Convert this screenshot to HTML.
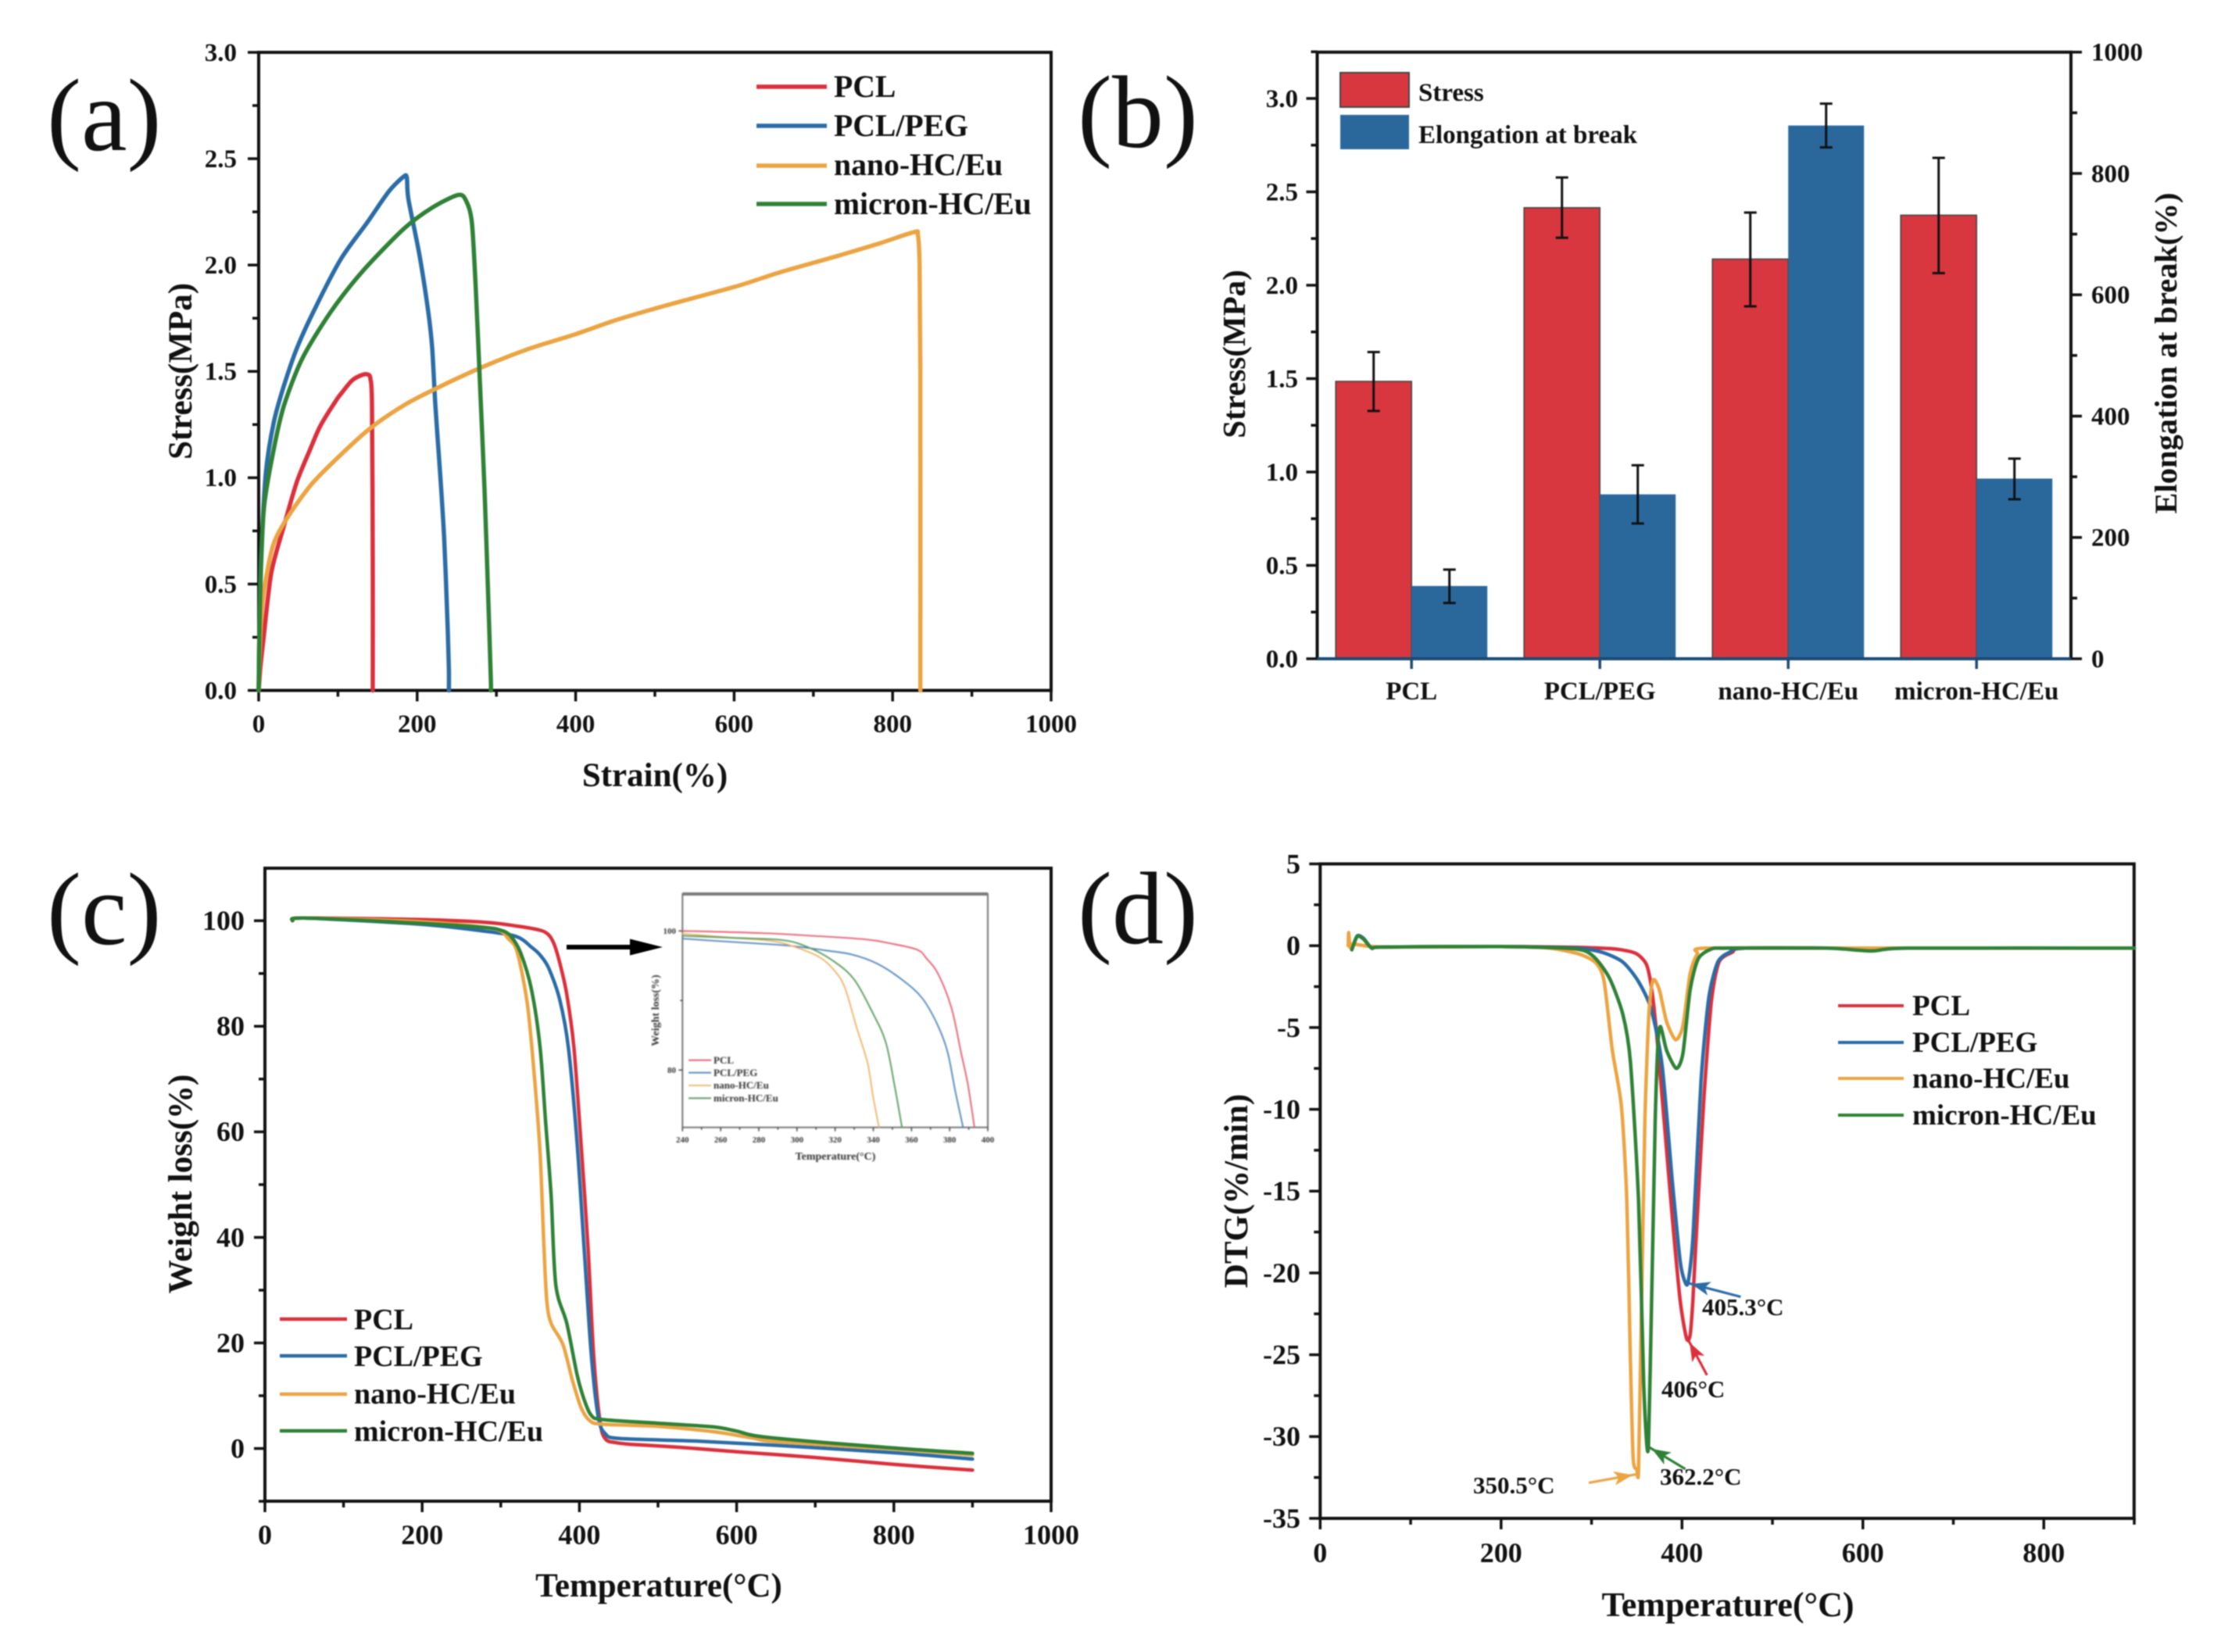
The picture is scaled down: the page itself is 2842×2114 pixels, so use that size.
<!DOCTYPE html>
<html lang="en">
<head>
<meta charset="utf-8">
<title>PCL composite mechanical and thermal properties</title>
<style>
html,body{margin:0;padding:0;background:#fff;}
#figure{display:block;width:2842px;height:2114px;filter:blur(0.8px);}
text{font-family:"Liberation Serif","DejaVu Serif",serif;font-weight:bold;fill:#111;}
.panel-tag{font-weight:normal;font-size:132px;}
.axis-title{font-size:43px;}
.legend-text{font-size:38px;}
.note{font-size:31px;}
.inset-text{fill:#333;}
</style>
</head>
<body>
<svg id="figure" xmlns="http://www.w3.org/2000/svg" width="2842" height="2114" viewBox="0 0 2842 2114">
  <rect x="0" y="0" width="2842" height="2114" fill="#fff"/>

  <g id="panel-a">
    <text class="panel-tag" x="60" y="192">(a)</text>
    <rect x="331" y="67" width="1014" height="816.5" fill="none" stroke="#111" stroke-width="4"/>
    <g id="a-ticks"></g>
    <g id="a-series"></g>
    <text class="axis-title" x="838" y="1006" text-anchor="middle">Strain(%)</text>
    <text class="axis-title" transform="translate(245,475) rotate(-90)" text-anchor="middle">Stress(MPa)</text>
    <g>
      <line x1="968" x2="1058" y1="111" y2="111" stroke="#d9303c" stroke-width="5.5"/>
      <line x1="968" x2="1058" y1="161" y2="161" stroke="#2a6ca6" stroke-width="5.5"/>
      <line x1="968" x2="1058" y1="212" y2="212" stroke="#eba442" stroke-width="5.5"/>
      <line x1="968" x2="1058" y1="261" y2="261" stroke="#2e8135" stroke-width="5.5"/>
      <text class="legend-text" style="font-size:39.7px" x="1067" y="124">PCL</text>
      <text class="legend-text" style="font-size:39.7px" x="1067" y="174">PCL/PEG</text>
      <text class="legend-text" style="font-size:39.7px" x="1067" y="224">nano-HC/Eu</text>
      <text class="legend-text" style="font-size:39.7px" x="1067" y="274">micron-HC/Eu</text>
    </g>
  </g>

  <g id="panel-b">
    <text class="panel-tag" x="1379" y="188">(b)</text>
    <g id="b-bars"></g>
    <path d="M1685.5 843V66.7H2650V843" fill="none" stroke="#111" stroke-width="4"/>
    <line x1="1685.5" x2="2650" y1="843" y2="843" stroke="#1c4a73" stroke-width="4"/>
    <g id="b-ticks"></g>
    <text class="axis-title" style="font-size:41px" transform="translate(1593,453) rotate(-90)" text-anchor="middle">Stress(MPa)</text>
    <text class="axis-title" style="font-size:40.5px" transform="translate(2785,452) rotate(-90)" text-anchor="middle">Elongation at break(%)</text>
    <g>
      <rect x="1715" y="93" width="88" height="44" fill="#d8373f" stroke="#444" stroke-width="2"/>
      <rect x="1715" y="147" width="88" height="44" fill="#2a689c"/>
      <text x="1815" y="129" font-size="33">Stress</text>
      <text x="1815" y="183" font-size="33">Elongation at break</text>
    </g>
  </g>

  <g id="panel-c">
    <text class="panel-tag" x="60" y="1208">(c)</text>
    <rect x="339" y="1111" width="1006" height="810" fill="none" stroke="#111" stroke-width="4"/>
    <g id="c-ticks"></g>
    <g id="c-series"></g>
    <text class="axis-title" x="843" y="2043" text-anchor="middle">Temperature(°C)</text>
    <text class="axis-title" transform="translate(245,1515) rotate(-90)" text-anchor="middle">Weight loss(%)</text>
    <g>
      <line x1="358" x2="444" y1="1688" y2="1688" stroke="#d9303c" stroke-width="4.5"/>
      <line x1="358" x2="444" y1="1735" y2="1735" stroke="#2a6ca6" stroke-width="4.5"/>
      <line x1="358" x2="444" y1="1784" y2="1784" stroke="#eba442" stroke-width="4.5"/>
      <line x1="358" x2="444" y1="1831" y2="1831" stroke="#2e8135" stroke-width="4.5"/>
      <text class="legend-text" x="453" y="1701">PCL</text>
      <text class="legend-text" x="453" y="1748">PCL/PEG</text>
      <text class="legend-text" x="453" y="1796">nano-HC/Eu</text>
      <text class="legend-text" x="453" y="1844">micron-HC/Eu</text>
    </g>
    <g>
      <line x1="725" x2="812" y1="1212" y2="1212" stroke="#000" stroke-width="6"/>
      <path d="M806 1201.5L848 1212L806 1222.5Z" fill="#000"/>
    </g>
    <g id="inset" style="filter:blur(0.6px)">
      <rect x="873.3" y="1144" width="390.7" height="298.7" fill="#fff" stroke="#666" stroke-width="1.8"/>
      <line x1="873.3" x2="1264" y1="1144" y2="1144" stroke="#777" stroke-width="4"/>
      <g id="inset-ticks"></g>
      <g id="inset-series"></g>
      <text class="inset-text" x="1069" y="1484" font-size="14" text-anchor="middle">Temperature(°C)</text>
      <text class="inset-text" transform="translate(843,1293) rotate(-90)" font-size="14" text-anchor="middle">Weight loss(%)</text>
      <g>
        <line x1="881" x2="910" y1="1356.7" y2="1356.7" stroke="#e2566a" stroke-width="1.8"/>
        <line x1="881" x2="910" y1="1372.7" y2="1372.7" stroke="#4a82b8" stroke-width="1.8"/>
        <line x1="881" x2="910" y1="1389" y2="1389" stroke="#eeb063" stroke-width="1.8"/>
        <line x1="881" x2="910" y1="1405.3" y2="1405.3" stroke="#4f9656" stroke-width="1.8"/>
        <text class="inset-text" x="913" y="1361" font-size="13">PCL</text>
        <text class="inset-text" x="913" y="1377" font-size="13">PCL/PEG</text>
        <text class="inset-text" x="913" y="1393" font-size="13">nano-HC/Eu</text>
        <text class="inset-text" x="913" y="1409.5" font-size="13">micron-HC/Eu</text>
      </g>
    </g>
  </g>

  <g id="panel-d">
    <text class="panel-tag" x="1379" y="1207">(d)</text>
    <rect x="1689.3" y="1105.5" width="1041.5" height="837.5" fill="none" stroke="#111" stroke-width="4"/>
    <g id="d-ticks"></g>
    <g id="d-series"></g>
    <g id="d-arrows"></g>
    <text class="axis-title" style="font-size:44px" x="2211" y="2068" text-anchor="middle">Temperature(°C)</text>
    <text class="axis-title" transform="translate(1596,1524) rotate(-90)" text-anchor="middle">DTG(%/min)</text>
    <g>
      <line x1="2352" x2="2436" y1="1287" y2="1287" stroke="#d9303c" stroke-width="4"/>
      <line x1="2352" x2="2436" y1="1334" y2="1334" stroke="#2a6ca6" stroke-width="4"/>
      <line x1="2352" x2="2436" y1="1380" y2="1380" stroke="#eba442" stroke-width="4"/>
      <line x1="2352" x2="2436" y1="1427" y2="1427" stroke="#2e8135" stroke-width="4"/>
      <text x="2447" y="1299" font-size="37">PCL</text>
      <text x="2447" y="1346" font-size="37">PCL/PEG</text>
      <text x="2447" y="1392" font-size="37">nano-HC/Eu</text>
      <text x="2447" y="1439" font-size="37">micron-HC/Eu</text>
    </g>
    <text class="note" x="2178" y="1683">405.3°C</text>
    <text class="note" x="2126" y="1788">406°C</text>
    <text class="note" x="2124" y="1900">362.2°C</text>
    <text class="note" x="1885" y="1911">350.5°C</text>
  </g>
</svg>

<script>
// ---------- Panel (a): stress-strain ----------
const strainPclX = [0,2,6,16,32,48,65,78,98,105,118,131,138,141,143,144,144];
const strainPclY = [0,0.1,0.24,0.553,0.774,0.979,1.134,1.245,1.365,1.4,1.458,1.484,1.485,1.465,1.34,0.6,0];
const strainPegX = [0,1,3,9,19,32,48,71,104,137,164,183,187,189,203,214,219,223,229,234,238,240,240];
const strainPegY = [0,0.3,0.62,1.02,1.26,1.434,1.607,1.795,2.03,2.2,2.345,2.416,2.41,2.31,2.046,1.78,1.607,1.34,1.02,0.72,0.35,0.1,0];
const strainNanoX = [0,1,3,7,18,35,65,98,140,183,223,279,340,400,450,514,603,657,728,782,827,832,834,835,835];
const strainNanoY = [0,0.15,0.32,0.476,0.68,0.805,0.962,1.088,1.23,1.34,1.418,1.515,1.605,1.675,1.74,1.81,1.9,1.965,2.04,2.1,2.155,2.14,2.0,1.5,0];
const strainMicronX = [0,1,3,7,19,32,55,91,131,183,219,252,262,269,274,279,285,290,293,293];
const strainMicronY = [0,0.3,0.58,0.87,1.134,1.34,1.56,1.78,1.97,2.17,2.27,2.33,2.3,2.2,1.89,1.465,0.945,0.397,0.05,0];
const aYTickLabels = ['0.0','0.5','1.0','1.5','2.0','2.5','3.0'];
const aYMinor = [0.25,0.75,1.25,1.75,2.25,2.75];
const aXTickLabels = ['0','200','400','600','800','1000'];
const aXMinor = [100,300,500,700,900];

// ---------- Panel (b): bars ----------
const barCategories = ['PCL','PCL/PEG','nano-HC/Eu','micron-HC/Eu'];
const stressValues = [1.485,2.415,2.14,2.375];
const stressErrHigh = [1.642,2.577,2.389,2.682];
const stressErrLow = [1.327,2.254,1.887,2.065];
const elongationValues = [120,271,879,297];
const elongationErrHigh = [147,319,915,330];
const elongationErrLow = [92,223,843,263];
const bLeftTickLabels = ['0.0','0.5','1.0','1.5','2.0','2.5','3.0'];
const bLeftMinor = [0.25,0.75,1.25,1.75,2.25,2.75];
const bRightTickLabels = ['0','200','400','600','800','1000'];
const bRightMinor = [100,300,500,700,900];

// ---------- Panel (c): TGA ----------
const tgaPclX = [35,50,200,280,320,350,361,368,375,384,393,402,411,418,426,433,447,465,530,600,700,800,900];
const tgaPclY = [100,100.5,100.2,99.7,99,98.2,97.3,95.5,92,86,76,58,38,18,5.3,1.8,1.1,0.8,0.2,-0.6,-1.7,-3,-4.1];
const tgaPegX = [35,50,200,280,320,339,350,361,375,386,397,406,415,424,433,451,550,650,800,900];
const tgaPegY = [100,100.5,99.3,98,97,95,93.5,91,85,76,58,38,18,6,2.8,1.9,1.4,0.6,-0.8,-2];
const tgaNanoX = [35,50,200,290,310,321,334,343,350,355,358.5,364,379,391,402,413,429,500,570,620,650,800,900];
const tgaNanoY = [100,100.5,99.8,98.5,96.5,94,84,70,56,38,28,23.7,19.7,13,7.8,5.3,4.6,4.2,3.2,2,1.3,-0.1,-1.2];
const tgaMicronX = [35,50,200,280,300,312,325,339,350,357,364,370,384,397,406,415,429,500,570,600,640,800,900];
const tgaMicronY = [100,100.5,99.5,98.7,98.2,97.2,94,87,76,62,48,31,23.7,14,9.3,6.3,5.5,4.8,4.1,3.3,2.1,0.1,-0.9];
const cYTickLabels = ['0','20','40','60','80','100'];
const cYMinor = [-10,10,30,50,70,90];
const cXTickLabels = ['0','200','400','600','800','1000'];
const cXMinor = [100,300,500,700,900];

// ---------- Panel (c) inset ----------
const insetPclX = [240,281,308,335.6,349,363,368,374,381,386,389.5,393];
const insetPclY = [100,99.7,99.3,98.8,98.2,97.3,96,93.8,88.9,82.5,78,71.8];
const insetPegX = [240,267,295,315,329,342,356,366,374,379,383,387];
const insetPegY = [98.9,98.4,97.9,97.2,96.6,95.3,92.8,90.2,86.3,82.5,76.9,71.8];
const insetNanoX = [240,267,288,301,312,319,325,331.5,337,340,343];
const insetNanoY = [99.6,99,98.5,97.5,96.2,94.5,91.9,85.9,81,76,71.8];
const insetMicronX = [240,267,292,305.5,319,330,339.7,346.5,351,355];
const insetMicronY = [99.3,99,98.7,97.7,95.7,93,88.2,84,78,71.8];
const insetXTickLabels = ['240','260','280','300','320','340','360','380','400'];
const insetYTickLabels = ['80','100'];
const insetXMinor = [250,270,290,310,330,350,370,390];
const insetYMinor = [90];

// ---------- Panel (d): DTG ----------
const dtgPclX = [69,200,283,326,349,360.5,366,372,381,389.6,398,405,409,412,416.7,424,432.5,441,455.6,470,600,900];
const dtgPclY = [-0.08,-0.05,-0.1,-0.2,-0.47,-1.13,-2.46,-5.4,-11.2,-16.8,-21.7,-24,-23.8,-21.7,-16.8,-9.5,-3.4,-1,-0.4,-0.15,-0.15,-0.15];
const dtgPegX = [35,41,48,57,69,200,283,311.6,334.6,352,366,378,389.3,398,403.7,407,412.4,421,429.6,439.6,452.6,470,600,900];
const dtgPegY = [-0.2,0.6,0.45,-0.15,-0.08,-0.05,-0.15,-0.4,-1,-2.2,-3.9,-7.3,-14.4,-19.3,-20.6,-20.5,-17.6,-8.3,-3.2,-1,-0.4,-0.15,-0.15,-0.15];
const dtgNanoX = [31,31.5,33,36,69,200,254,288.5,305.7,314,323,333,339,343,346,350,352,355,359,363.4,368,375,383,393,401,409,417,426.7,600,900];
const dtgNanoY = [0,0.8,-0.1,0.1,-0.08,-0.05,-0.15,-0.55,-1.1,-2.2,-6.4,-9.8,-15.6,-25.4,-31.3,-32,-32,-22.9,-10.7,-4.2,-2.1,-2.7,-4.65,-5.75,-4.9,-1.7,-0.5,-0.15,-0.15,-0.15];
const dtgMicronX = [35,41,48,57,69,200,283,303,320,334.6,343,352,357.6,361,363,366,370.4,373.5,376.4,383,393.6,401,409,418,432.6,450,560,610,650,900];
const dtgMicronY = [-0.25,0.57,0.4,-0.15,-0.08,-0.05,-0.2,-0.7,-2,-4.2,-7.1,-15.6,-26.6,-30.4,-30.4,-22.9,-10.7,-5.9,-4.95,-6.4,-7.5,-6.6,-2.7,-0.8,-0.2,-0.15,-0.15,-0.32,-0.15,-0.15];
const dYTickLabels = ['5','0','-5','-10','-15','-20','-25','-30','-35'];
const dYMinor = [2.5,-2.5,-7.5,-12.5,-17.5,-22.5,-27.5,-32.5];
const dXTickLabels = ['0','200','400','600','800'];
const dXMinor = [100,300,500,700,900];
const peakTemps = [406,405.3,350.5,362.2];
const peakValues = [-24,-20.6,-32.3,-30.6];

// ---------- Helpers ----------
const NS = 'http://www.w3.org/2000/svg';
const RED = '#d9303c', BLUE = '#2a6ca6', ORANGE = '#eba442', GREEN = '#2e8135';
function scale(d0, d1, r0, r1) { return v => r0 + (v - d0) * (r1 - r0) / (d1 - d0); }
function node(tag, parent, attrs) {
  const el = document.createElementNS(NS, tag);
  for (const k in attrs) el.setAttribute(k, attrs[k]);
  parent.appendChild(el);
  return el;
}
function curvePath(xs, ys, sx, sy, k) {
  const p = xs.map((x, i) => [sx(x), sy(ys[i])]);
  let d = 'M' + p[0][0].toFixed(1) + ' ' + p[0][1].toFixed(1);
  for (let i = 0; i < p.length - 1; i++) {
    const a = p[Math.max(i - 1, 0)], b = p[i], c = p[i + 1], e = p[Math.min(i + 2, p.length - 1)];
    d += 'C' + (b[0] + (c[0] - a[0]) * k).toFixed(1) + ' ' + (b[1] + (c[1] - a[1]) * k).toFixed(1) + ' ' +
         (c[0] - (e[0] - b[0]) * k).toFixed(1) + ' ' + (c[1] - (e[1] - b[1]) * k).toFixed(1) + ' ' +
         c[0].toFixed(1) + ' ' + c[1].toFixed(1);
  }
  return d;
}
function drawCurve(group, xs, ys, sx, sy, color, width, k) {
  const el = node('path', group, {d: curvePath(xs, ys, sx, sy, k), fill: 'none', stroke: color, 'stroke-width': width, 'stroke-linejoin': 'round', 'stroke-linecap': 'round'});
  
  
  return el;
}
function drawTick(group, x1, y1, x2, y2, color, width) {
  const el = node('line', group, {x1: x1, y1: y1, x2: x2, y2: y2, stroke: color, 'stroke-width': width});
  
  
}
function drawLabel(group, txt, x, y, size, anchor, cls) {
  const el = node('text', group, {x: x, y: y, 'font-size': size, 'text-anchor': anchor});
  if (cls) el.setAttribute('class', cls);
  el.textContent = txt;
  
  
}
// side: 'left' | 'right' | 'bottom'
function drawAxis(group, side, pos, sc, labels, minors, o) {
  const s = o.size, ml = o.major, nl = o.minor, col = o.color, w = o.width;
  labels.forEach(label => {
    const p = sc(parseFloat(label));
    if (side === 'bottom') {
      drawTick(group, p, pos, p, pos + ml, col, w);
      drawLabel(group, label, p, o.labelAt, s, 'middle', o.cls);
    } else if (side === 'left') {
      drawTick(group, pos - ml, p, pos, p, col, w);
      drawLabel(group, label, o.labelAt, p + s * 0.33, s, 'end', o.cls);
    } else {
      drawTick(group, pos, p, pos + ml, p, col, w);
      drawLabel(group, label, o.labelAt, p + s * 0.33, s, 'start', o.cls);
    }
  });
  minors.forEach(v => {
    const p = sc(v);
    if (side === 'bottom') drawTick(group, p, pos, p, pos + nl, col, w);
    else if (side === 'left') drawTick(group, pos - nl, p, pos, p, col, w);
    else drawTick(group, pos, p, pos + nl, p, col, w);
  });
}
function $(id) { return document.getElementById(id); }

// ---------- Draw panel (a) ----------
const ax = scale(0, 1000, 331, 1345), ay = scale(0, 3, 883.5, 67);
const aOpts = {size: 33, major: 14, minor: 8, color: '#111', width: 3.5};
drawAxis($('a-ticks'), 'left', 331, ay, aYTickLabels, aYMinor, Object.assign({labelAt: 303}, aOpts));
drawAxis($('a-ticks'), 'bottom', 883.5, ax, aXTickLabels, aXMinor, Object.assign({labelAt: 937}, aOpts));
drawCurve($('a-series'), strainPclX, strainPclY, ax, ay, RED, 5.5, 0.14);
drawCurve($('a-series'), strainPegX, strainPegY, ax, ay, BLUE, 5.5, 0.14);
drawCurve($('a-series'), strainNanoX, strainNanoY, ax, ay, ORANGE, 5.5, 0.14);
drawCurve($('a-series'), strainMicronX, strainMicronY, ax, ay, GREEN, 5.5, 0.14);

// ---------- Draw panel (b) ----------
const catX = scale(0, 1, 1806.2, 2047.2);
const bLeft = scale(0, 3, 843, 126);
const bRight = scale(0, 1000, 843, 66.7);
const barW = 97;
const bBars = $('b-bars');
function drawErr(group, x, hi, lo) {
  const el = node('path', group, {d: 'M' + (x - 8) + ' ' + hi + 'H' + (x + 8) + 'M' + x + ' ' + hi + 'V' + lo + 'M' + (x - 8) + ' ' + lo + 'H' + (x + 8), fill: 'none', stroke: '#111', 'stroke-width': 3});
  
  
}
barCategories.forEach((cat, i) => {
  const c = catX(i);
  const r = node('rect', bBars, {x: c - barW, y: bLeft(stressValues[i]), width: barW, height: 843 - bLeft(stressValues[i]), fill: '#d8373f', stroke: '#444', 'stroke-width': 1.6});
  
  
  const b = node('rect', bBars, {x: c, y: bRight(elongationValues[i]), width: barW, height: 843 - bRight(elongationValues[i]), fill: '#2a689c'});
  
  
  drawErr(bBars, c - barW / 2, bLeft(stressErrHigh[i]), bLeft(stressErrLow[i]));
  drawErr(bBars, c + barW / 2, bRight(elongationErrHigh[i]), bRight(elongationErrLow[i]));
  drawTick($('b-ticks'), c, 843, c, 856, '#1c4a73', 3.5);
  drawLabel($('b-ticks'), cat, c, 895, 33, 'middle');
});
const bOpts = {size: 33, major: 14, minor: 8, color: '#111', width: 3.5};
drawAxis($('b-ticks'), 'left', 1685.5, bLeft, bLeftTickLabels, bLeftMinor.concat([3.25]), Object.assign({labelAt: 1661}, bOpts));
drawAxis($('b-ticks'), 'right', 2650, bRight, bRightTickLabels, bRightMinor, Object.assign({labelAt: 2676}, bOpts));

// ---------- Draw panel (c) ----------
const cx = scale(0, 1000, 339, 1345), cy = scale(0, 100, 1853.6, 1178.2);
const cOpts = {size: 36, major: 14, minor: 8, color: '#111', width: 3.5};
drawAxis($('c-ticks'), 'left', 339, cy, cYTickLabels, cYMinor, Object.assign({labelAt: 313}, cOpts));
drawAxis($('c-ticks'), 'bottom', 1921, cx, cXTickLabels, cXMinor, Object.assign({labelAt: 1976}, cOpts));
drawCurve($('c-series'), tgaPclX, tgaPclY, cx, cy, RED, 4.5, 0.15);
drawCurve($('c-series'), tgaPegX, tgaPegY, cx, cy, BLUE, 4.5, 0.15);
drawCurve($('c-series'), tgaNanoX, tgaNanoY, cx, cy, ORANGE, 4.5, 0.15);
drawCurve($('c-series'), tgaMicronX, tgaMicronY, cx, cy, GREEN, 4.5, 0.15);

// ---------- Draw inset ----------
const ix = scale(240, 400, 873.3, 1264), iy = scale(80, 100, 1369.3, 1191.3);
const iOpts = {size: 11, major: 5, minor: 3, color: '#444', width: 1.5, cls: 'inset-text'};
drawAxis($('inset-ticks'), 'left', 873.3, iy, insetYTickLabels, insetYMinor, Object.assign({labelAt: 865}, iOpts));
drawAxis($('inset-ticks'), 'bottom', 1442.7, ix, insetXTickLabels, insetXMinor, Object.assign({labelAt: 1462}, iOpts));
drawCurve($('inset-series'), insetPclX, insetPclY, ix, iy, '#e2566a', 1.8, 0.167);
drawCurve($('inset-series'), insetPegX, insetPegY, ix, iy, '#4a82b8', 1.8, 0.167);
drawCurve($('inset-series'), insetNanoX, insetNanoY, ix, iy, '#eeb063', 1.8, 0.167);
drawCurve($('inset-series'), insetMicronX, insetMicronY, ix, iy, '#4f9656', 1.8, 0.167);

// ---------- Draw panel (d) ----------
const dx = scale(0, 900, 1689.3, 2731), dy = scale(5, -35, 1105.5, 1943);
const dOpts = {size: 36, major: 14, minor: 8, color: '#111', width: 3.5};
drawAxis($('d-ticks'), 'left', 1689.3, dy, dYTickLabels, dYMinor, Object.assign({labelAt: 1664}, dOpts));
drawAxis($('d-ticks'), 'bottom', 1943, dx, dXTickLabels, dXMinor, Object.assign({labelAt: 1999}, dOpts));
drawCurve($('d-series'), dtgPclX, dtgPclY, dx, dy, RED, 4.5, 0.12);
drawCurve($('d-series'), dtgPegX, dtgPegY, dx, dy, BLUE, 4.5, 0.12);
drawCurve($('d-series'), dtgNanoX, dtgNanoY, dx, dy, ORANGE, 4.5, 0.12);
drawCurve($('d-series'), dtgMicronX, dtgMicronY, dx, dy, GREEN, 4.5, 0.12);

function drawArrow(group, tipX, tipY, offX, offY, color) {
  const len = Math.hypot(offX, offY), ux = offX / len, uy = offY / len, nx = -uy, ny = ux;
  const g = node('g', group, {});
  
  
  node('line', g, {x1: tipX + offX, y1: tipY + offY, x2: tipX, y2: tipY, stroke: color, 'stroke-width': 3.2});
  const bx = tipX + ux * 30, by = tipY + uy * 30;
  const mx = tipX + ux * 24, my = tipY + uy * 24;
  const tx = tipX + ux * 6, ty = tipY + uy * 6;
  node('path', g, {d: 'M' + tx + ' ' + ty + 'L' + (bx + nx * 9) + ' ' + (by + ny * 9) + 'L' + mx + ' ' + my + 'L' + (bx - nx * 9) + ' ' + (by - ny * 9) + 'Z', fill: color});
}
const peakColors = [RED, BLUE, ORANGE, GREEN];
const peakTailX = [25, 69, -62, 48];
const peakTailY = [47, 18, 11, 29];
peakTemps.forEach((t, i) => {
  drawArrow($('d-arrows'), dx(t), dy(peakValues[i]), peakTailX[i], peakTailY[i], peakColors[i]);
});
</script>
</body>
</html>
